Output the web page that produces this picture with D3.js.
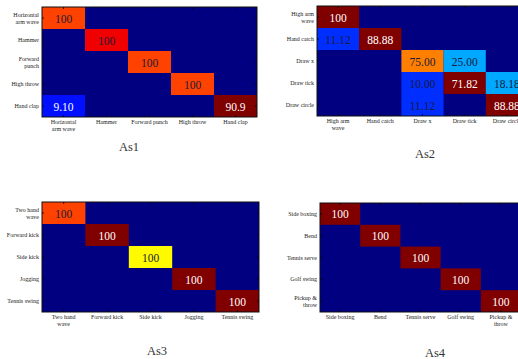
<!DOCTYPE html>
<html><head><meta charset="utf-8">
<script src="https://cdn.jsdelivr.net/npm/d3@7"></script>
<style>html,body{margin:0;padding:0;background:#fff;overflow:hidden}</style>
</head><body><svg id="c" width="518" height="359"></svg>
<script>
// ---------- data ----------
const as1Labels = ["Horizontal\narm wave", "Hammer", "Forward\npunch", "High throw", "Hand clap"];
const as1XLabels = ["Horizontal\narm wave", "Hammer", "Forward punch", "High throw", "Hand clap"];
const as1Values = [
  [100, 0, 0, 0, 0],
  [0, 100, 0, 0, 0],
  [0, 0, 100, 0, 0],
  [0, 0, 0, 100, 0],
  [9.10, 0, 0, 0, 90.9]
];
const as1Text = [
  ["100", "", "", "", ""],
  ["", "100", "", "", ""],
  ["", "", "100", "", ""],
  ["", "", "", "100", ""],
  ["9.10", "", "", "", "90.9"]
];
const as1Level = [
  [0.81, 0, 0, 0, 0],
  [0, 0.89, 0, 0, 0],
  [0, 0, 0.81, 0, 0],
  [0, 0, 0, 0.81, 0],
  [0.14, 0, 0, 0, 1]
];

const as2Labels = ["High arm\nwave", "Hand catch", "Draw x", "Draw tick", "Draw circle"];
const as2XLabels = ["High arm\nwave", "Hand catch", "Draw x", "Draw tick", "Draw circle"];
const as2Values = [
  [100, 0, 0, 0, 0],
  [11.12, 88.88, 0, 0, 0],
  [0, 0, 75.00, 25.00, 0],
  [0, 0, 10.00, 71.82, 18.18],
  [0, 0, 11.12, 0, 88.88]
];
const as2Text = [
  ["100", "", "", "", ""],
  ["11.12", "88.88", "", "", ""],
  ["", "", "75.00", "25.00", ""],
  ["", "", "10.00", "71.82", "18.18"],
  ["", "", "11.12", "", "88.88"]
];
const as2Level = [
  [1, 0, 0, 0, 0],
  [0.17, 1, 0, 0, 0],
  [0, 0, 0.75, 0.29, 0],
  [0, 0, 0.17, 1, 0.29],
  [0, 0, 0.17, 0, 1]
];

const as3Labels = ["Two hand\nwave", "Forward kick", "Side kick", "Jogging", "Tennis swing"];
const as3XLabels = ["Two hand\nwave", "Forward kick", "Side kick", "Jogging", "Tennis swing"];
const as3Values = [
  [100, 0, 0, 0, 0],
  [0, 100, 0, 0, 0],
  [0, 0, 100, 0, 0],
  [0, 0, 0, 100, 0],
  [0, 0, 0, 0, 100]
];
const as3Text = [
  ["100", "", "", "", ""],
  ["", "100", "", "", ""],
  ["", "", "100", "", ""],
  ["", "", "", "100", ""],
  ["", "", "", "", "100"]
];
const as3Level = [
  [0.81, 0, 0, 0, 0],
  [0, 1, 0, 0, 0],
  [0, 0, 0.63, 0, 0],
  [0, 0, 0, 1, 0],
  [0, 0, 0, 0, 1]
];

const as4Labels = ["Side boxing", "Bend", "Tennis serve", "Golf swing", "Pickup &\nthrow"];
const as4XLabels = ["Side boxing", "Bend", "Tennis serve", "Golf swing", "Pickup &\nthrow"];
const as4Values = [
  [100, 0, 0, 0, 0],
  [0, 100, 0, 0, 0],
  [0, 0, 100, 0, 0],
  [0, 0, 0, 100, 0],
  [0, 0, 0, 0, 100]
];
const as4Text = [
  ["100", "", "", "", ""],
  ["", "100", "", "", ""],
  ["", "", "100", "", ""],
  ["", "", "", "100", ""],
  ["", "", "", "", "100"]
];
const as4Level = [
  [1, 0, 0, 0, 0],
  [0, 1, 0, 0, 0],
  [0, 0, 1, 0, 0],
  [0, 0, 0, 1, 0],
  [0, 0, 0, 0, 1]
];

const titles = ["As1", "As2", "As3", "As4"];

// ---------- drawing ----------
function jet(t) {
  const c = v => Math.max(0, Math.min(1, v));
  const r = c(1.5 - Math.abs(4 * t - 3));
  const g = c(1.5 - Math.abs(4 * t - 2));
  const b = c(1.5 - Math.abs(4 * t - 1));
  return d3.rgb(r * 255, g * 255, b * 255).formatHex();
}

const svg = d3.select("#c");
const FONT = "'Liberation Serif','DejaVu Serif',serif";

function panel(cfg) {
  const { x0, y0, w, h, rows, cols, values, text, level, title, tx, ty } = cfg;
  const g = svg.append("g");
  const n = rows.length;
  const xs = d3.scaleBand().domain(d3.range(cols.length)).range([x0, x0 + w]);
  const ys = d3.scaleBand().domain(d3.range(n)).range([y0, y0 + h]);

  g.append("rect").attr("x", x0).attr("y", y0).attr("width", w).attr("height", h).attr("fill", jet(0));

  const cells = [];
  values.forEach((row, i) => row.forEach((v, j) => cells.push({ i, j, v, t: text[i][j], l: level[i][j] })));

  g.selectAll("rect.cell").data(cells.filter(d => d.v > 0)).join("rect")
    .attr("x", d => xs(d.j)).attr("y", d => ys(d.i))
    .attr("width", xs.bandwidth()).attr("height", ys.bandwidth())
    .attr("fill", d => jet(d.l));

  g.selectAll("text.val").data(cells.filter(d => d.t !== "")).join("text")
    .attr("x", d => xs(d.j) + xs.bandwidth() / 2)
    .attr("y", d => ys(d.i) + ys.bandwidth() / 2 + 4.5)
    .attr("text-anchor", "middle")
    .attr("font-family", FONT).attr("font-size", 11.5)
    .attr("fill", d => (d.l > 0.95 || d.l < 0.15) ? "#ffffff" : "#1a1a3a")
    .text(d => d.t);

  // ticks
  const tk = g.append("g").attr("stroke", "#000").attr("stroke-width", 0.8);
  d3.range(cols.length).forEach(j => {
    const cx = xs(j) + xs.bandwidth() / 2;
    tk.append("line").attr("x1", cx).attr("x2", cx).attr("y1", y0).attr("y2", y0 + 2);
    tk.append("line").attr("x1", cx).attr("x2", cx).attr("y1", y0 + h).attr("y2", y0 + h - 2);
  });
  d3.range(n).forEach(i => {
    const cy = ys(i) + ys.bandwidth() / 2;
    tk.append("line").attr("x1", x0).attr("x2", x0 + 2).attr("y1", cy).attr("y2", cy);
    tk.append("line").attr("x1", x0 + w).attr("x2", x0 + w - 2).attr("y1", cy).attr("y2", cy);
  });

  g.append("rect").attr("x", x0).attr("y", y0).attr("width", w).attr("height", h)
    .attr("fill", "none").attr("stroke", "#111").attr("stroke-width", 1);

  // y labels
  rows.forEach((lab, i) => {
    const lines = lab.split("\n");
    const cy = ys(i) + ys.bandwidth() / 2;
    const t = g.append("text").attr("font-family", FONT).attr("font-size", 6)
      .attr("fill", "#222").attr("text-anchor", "end");
    lines.forEach((ln, k) => {
      t.append("tspan").attr("x", x0 - 3)
        .attr("y", cy + 2 + (k - (lines.length - 1) / 2) * 7).text(ln);
    });
  });
  // x labels
  cols.forEach((lab, j) => {
    const lines = lab.split("\n");
    const cx = xs(j) + xs.bandwidth() / 2;
    const t = g.append("text").attr("font-family", FONT).attr("font-size", 6)
      .attr("fill", "#222").attr("text-anchor", "middle");
    lines.forEach((ln, k) => {
      t.append("tspan").attr("x", cx).attr("y", y0 + h + 6.5 + k * 7).text(ln);
    });
  });

  g.append("text").attr("x", tx).attr("y", ty).attr("text-anchor", "middle")
    .attr("font-family", FONT).attr("font-size", 12.5).attr("fill", "#333").text(title);
}

panel({ x0: 42, y0: 7, w: 215, h: 110, rows: as1Labels, cols: as1XLabels, values: as1Values, text: as1Text, level: as1Level, title: titles[0], tx: 129, ty: 151 });
panel({ x0: 317, y0: 6, w: 211, h: 110, rows: as2Labels, cols: as2XLabels, values: as2Values, text: as2Text, level: as2Level, title: titles[1], tx: 425, ty: 158 });
panel({ x0: 42, y0: 202, w: 217, h: 110, rows: as3Labels, cols: as3XLabels, values: as3Values, text: as3Text, level: as3Level, title: titles[2], tx: 157, ty: 355 });
panel({ x0: 320, y0: 203, w: 201, h: 109, rows: as4Labels, cols: as4XLabels, values: as4Values, text: as4Text, level: as4Level, title: titles[3], tx: 435, ty: 357 });
</script>
</body></html>
